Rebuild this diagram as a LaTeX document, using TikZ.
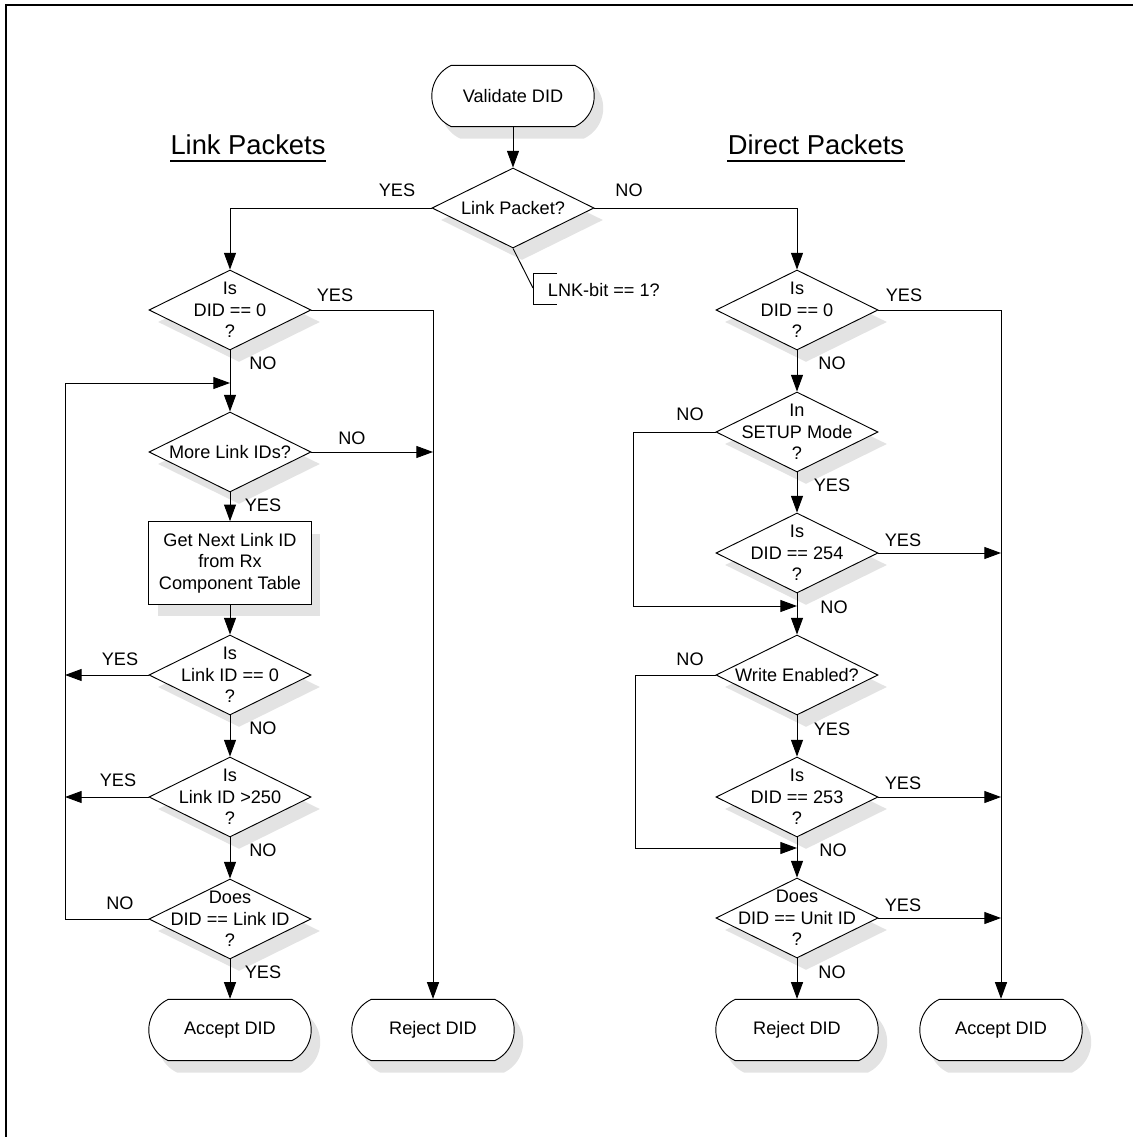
\documentclass[tikz,border=0pt]{standalone}
\usepackage{fontspec}
\setmainfont{Liberation Sans}
\usetikzlibrary{shapes.geometric,shapes.misc,shadows,arrows.meta}

\begin{document}
\begin{tikzpicture}[x=0.75pt,y=-0.75pt,line width=0.7pt,
  font=\fontsize{13.6}{16}\selectfont,
  dropshade/.style={drop shadow={shadow xshift=6.75pt,shadow yshift=-9pt,fill=black!11,opacity=1}},
  terminal/.style={rounded rectangle,rounded rectangle arc length=130,draw,fill=white,
    minimum width=128.5pt,minimum height=46pt,dropshade},
  decision/.style={diamond,draw,fill=white,minimum width=121.5pt,minimum height=60pt,
    inner sep=0pt,dropshade,label={[align=center]center:#1}},
  process/.style={rectangle,draw,fill=white,minimum width=122pt,minimum height=62pt,
    align=center,dropshade},
  lbl/.style={inner sep=1pt},
  title/.style={inner sep=0pt,anchor=base,font=\fontsize{20.5}{24}\selectfont},
  arr/.style={-{Triangle[length=12.5pt,width=9pt]}}]
\useasboundingbox (0,0) rectangle (1133,1137);
\draw[line width=1.5pt] (6,1137) -- (6,5) -- (1133,5);

% titles
\node[title] (lpk) at (248,155) {Link Packets};
\node[title] (dpk) at (816,155) {Direct Packets};
\draw[line width=1.1pt] ([yshift=-4.5pt]lpk.base west) -- ([yshift=-4.5pt]lpk.base east);
\draw[line width=1.1pt] ([yshift=-4.5pt]dpk.base west) -- ([yshift=-4.5pt]dpk.base east);

% top
\node[terminal] (start) at (513,96) {Validate DID};
\node[decision={Link Packet?}] (link) at (513,208) {};
\coordinate (note) at (533,288);
\draw (557,273) -- (533,273) -- (533,304) -- (557,304);
\node[anchor=west] (lnk) at (543,290) {LNK-bit == 1?};

% link packets
\node[decision={Is\\DID == 0\\?}] (ldid0) at (230,310) {};
\node[decision={More Link IDs?}] (more) at (230,452) {};
\node[process] (getnext) at (230,563) {Get Next Link ID\\from Rx\\Component Table};
\node[decision={Is\\Link ID == 0\\?}] (lid0) at (230,675) {};
\node[decision={Is\\Link ID >250\\?}] (l250) at (230,797) {};
\node[decision={Does\\DID == Link ID\\?}] (doesL) at (230,919) {};
\node[terminal] (accL) at (230,1030) {Accept DID};
\node[terminal] (rejL) at (433,1030) {Reject DID};
\coordinate (loopL) at (65,383);

% direct packets
\node[decision={Is\\DID == 0\\?}] (rdid0) at (797,310) {};
\node[decision={In\\SETUP Mode\\?}] (setup) at (797,432) {};
\node[decision={Is\\DID == 254\\?}] (d254) at (797,553) {};
\node[decision={Write Enabled?}] (write) at (797,675) {};
\node[decision={Is\\DID == 253\\?}] (d253) at (797,797) {};
\node[decision={Does\\DID == Unit ID\\?}] (unit) at (797,918) {};
\node[terminal] (rejR) at (797,1030) {Reject DID};
\node[terminal] (accR) at (1001,1030) {Accept DID};
\coordinate (loopR1) at (633,606);
\coordinate (loopR2) at (635,848);

% connectors
\draw[arr] (start.south) -- (link.north);
\draw[arr] (link.west) -| (ldid0.north);
\draw[arr] (link.east) -| (rdid0.north);
\draw (link.south) -- (note);

\draw[arr] (ldid0.east) -| (rejL.north);
\draw[arr] (ldid0.south) -- (more.north);
\draw[arr] (more.east) -- (more -| rejL);
\draw[arr] (more.south) -- (getnext.north);
\draw[arr] (getnext.south) -- (lid0.north);
\draw[arr] (lid0.west) -- (lid0 -| loopL);
\draw[arr] (lid0.south) -- (l250.north);
\draw[arr] (l250.west) -- (l250 -| loopL);
\draw[arr] (l250.south) -- (doesL.north);
\draw[arr] (doesL.west) -| (loopL) -- (loopL -| ldid0);
\draw[arr] (doesL.south) -- (accL.north);

\draw[arr] (rdid0.east) -| (accR.north);
\draw[arr] (rdid0.south) -- (setup.north);
\draw[arr] (setup.west) -| (loopR1) -- (loopR1 -| setup);
\draw[arr] (setup.south) -- (d254.north);
\draw[arr] (d254.east) -- (d254 -| accR);
\draw[arr] (d254.south) -- (write.north);
\draw[arr] (write.west) -| (loopR2) -- (loopR2 -| write);
\draw[arr] (write.south) -- (d253.north);
\draw[arr] (d253.east) -- (d253 -| accR);
\draw[arr] (d253.south) -- (unit.north);
\draw[arr] (unit.east) -- (unit -| accR);
\draw[arr] (unit.south) -- (rejR.north);

% yes / no
\node[lbl] (y0) at (397,190) {YES};
\node[lbl] (n0) at (629,190) {NO};
\node[lbl] (y1) at (335,295) {YES};
\node[lbl] (n1) at (263,363) {NO};
\node[lbl] (n2) at (352,438) {NO};
\node[lbl] (y2) at (263,505) {YES};
\node[lbl] (y3) at (120,659) {YES};
\node[lbl] (n3) at (263,728) {NO};
\node[lbl] (y4) at (118,780) {YES};
\node[lbl] (n4) at (263,850) {NO};
\node[lbl] (n5) at (120,903) {NO};
\node[lbl] (y5) at (263,972) {YES};
\node[lbl] (y6) at (904,295) {YES};
\node[lbl] (n6) at (832,363) {NO};
\node[lbl] (n7) at (690,414) {NO};
\node[lbl] (y7) at (832,485) {YES};
\node[lbl] (y8) at (903,540) {YES};
\node[lbl] (n8) at (834,607) {NO};
\node[lbl] (n9) at (690,659) {NO};
\node[lbl] (y9) at (832,729) {YES};
\node[lbl] (y10) at (903,783) {YES};
\node[lbl] (n10) at (833,850) {NO};
\node[lbl] (y11) at (903,905) {YES};
\node[lbl] (n11) at (832,972) {NO};
\end{tikzpicture}
\end{document}
